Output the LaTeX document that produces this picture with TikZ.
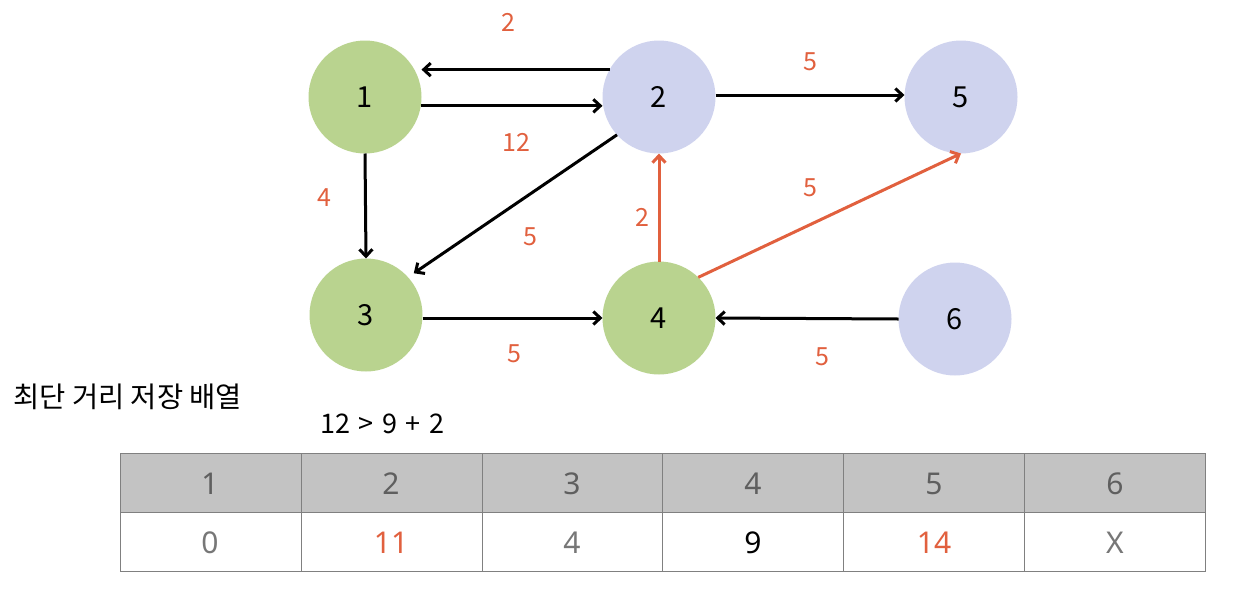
\documentclass[tikz,border=0pt]{standalone}
\usepackage{fontspec}
\setmainfont{Noto Sans}
\newfontfamily\cjk{Noto Sans CJK KR}
\usetikzlibrary{arrows.meta}
\definecolor{ngreen}{HTML}{B9D38F}
\definecolor{nlav}{HTML}{CFD3EE}
\definecolor{eorange}{HTML}{E1603E}
\definecolor{hdrfill}{HTML}{C3C3C3}
\definecolor{gridc}{HTML}{808080}
\definecolor{hdrtxt}{HTML}{5F5F5F}
\definecolor{valgrey}{HTML}{777777}
\tikzset{
  vert/.style={circle, minimum size=113pt, inner sep=0pt, outer sep=0pt, font=\cjk\fontsize{29}{31}\selectfont},
  gvert/.style={vert, fill=ngreen},
  lvert/.style={vert, fill=nlav},
  arr/.style={line width=3pt, -{Straight Barb[length=7pt,width=13pt]}},
  oarr/.style={arr, draw=eorange},
  wlab/.style={text=eorange, font=\cjk\fontsize{25}{27}\selectfont, inner sep=0pt},
  hdr/.style={text=hdrtxt, font=\fontsize{30}{32}\selectfont, inner sep=0pt},
  val/.style={font=\fontsize{30}{32}\selectfont, inner sep=0pt},
}
\begin{document}
\begin{tikzpicture}[x=1pt,y=-1pt]
\useasboundingbox (0,0) rectangle (1250,592);
% vertices
\node[gvert] (n1) at (365,97) {1};
\node[lvert] (n2) at (659,97) {2};
\node[lvert] (n5) at (961,97) {5};
\node[gvert] (n3) at (366,315) {3};
\node[gvert] (n4) at (659,318) {4};
\node[lvert] (n6) at (955,319) {6};
% edges
\draw[arr] (n2.151.5) -- (n2.151.5 -| n1.east);
\draw[arr] (n1.-9) -- (n1.-9 -| n2.west);
\draw[arr] (n2.east |- 0,95) -- (n5.west |- 0,95);
\draw[arr] (n1.south) -- (n3.north);
\draw[arr, shorten >=7pt] (n2.222) -- (n3.42.5);
\draw[oarr] (n4.north) -- (n2.south);
\draw[oarr] (n4.46.4) -- (n5.south);
\draw[arr] (n3.east |- n4.west) -- (n4.west);
\draw[arr] (n6.west) -- (n4.east);
% weights
\node[wlab] (w21) at (508,22) {2};
\node[wlab] (w12) at (516,142) {12};
\node[wlab] (w25) at (810,62) {5};
\node[wlab] (w13) at (324,198) {4};
\node[wlab] (w23) at (530,237) {5};
\node[wlab] (w42) at (642,217) {2};
\node[wlab] (w45) at (810,188) {5};
\node[wlab] (w34) at (514,354) {5};
\node[wlab] (w64) at (822,357) {5};
% captions
\node[anchor=west, inner sep=0pt, font=\cjk\fontsize{28.5}{30}\selectfont] (title) at (13,397) {최단 거리 저장 배열};
\node[anchor=west, inner sep=0pt, font=\cjk\fontsize{27}{29}\selectfont] (cmp) at (320,424) {\spaceskip=8.5pt 12 > 9 + 2};
% table
\fill[hdrfill] (120.5,453.5) rectangle (1205.5,512.5);
\draw[gridc, line width=1.2pt] (120.5,453.5) rectangle (1205.5,571.5);
\draw[gridc, line width=1.2pt] (120.5,512.5) -- (1205.5,512.5);
\foreach \x in {301.5,482.5,662.5,843.5,1024.5}
  \draw[gridc, line width=1.2pt] (\x,453.5) -- (\x,571.5);
\foreach \i/\c/\v/\col in {1/210/0/valgrey, 2/391/11/eorange, 3/572/4/valgrey, 4/753/9/black, 5/934/14/eorange, 6/1115/X/valgrey}{
  \node[hdr] (h\i) at (\c,484) {\i};
  \node[val, text=\col] (v\i) at (\c,543) {\v};
}
\end{tikzpicture}
\end{document}
